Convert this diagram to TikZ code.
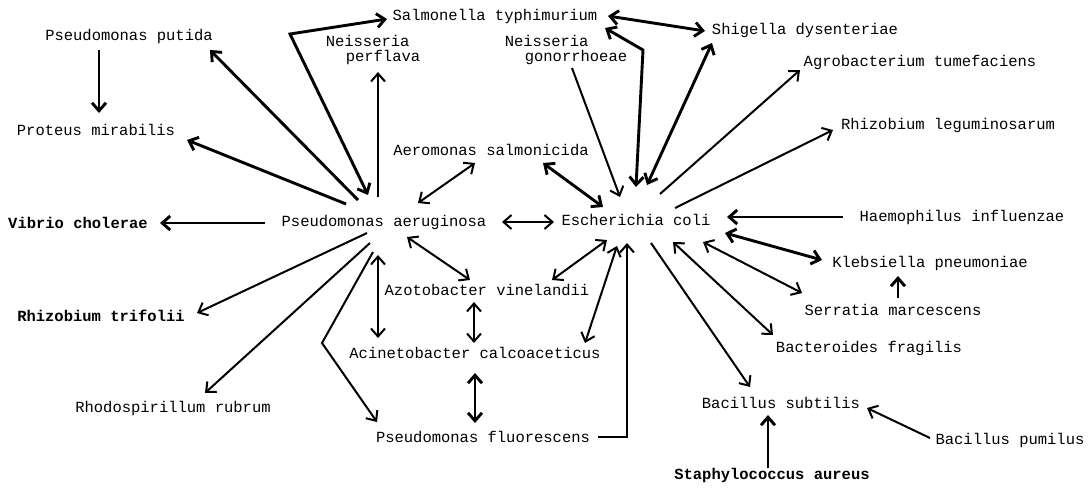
\documentclass[tikz,border=0pt]{standalone}
\usepackage{fontspec}
\setmonofont{Liberation Mono}
\usetikzlibrary{arrows.meta,calc}
\tikzset{
  lbl/.style={font=\ttfamily\fontsize{15.5}{15}\selectfont, inner sep=0pt, align=left},
  blbl/.style={font=\ttfamily\bfseries\fontsize{15.5}{15}\selectfont, inner sep=0pt},
  tip/.tip={Straight Barb[length=8pt,width=14pt]},
  conn/.style={line width=2pt, -tip},
  dconn/.style={line width=2pt, tip-tip},
  heavy/.style={line width=2.9pt}
}
\begin{document}
\begin{tikzpicture}[x=1pt,y=-1pt]
\useasboundingbox (0,0) rectangle (1088,488);
% nodes
\node[lbl]  (pput)  at (129,36)  {Pseudomonas putida};
\node[lbl]  (prot)  at (96,130)  {Proteus mirabilis};
\node[blbl] (vib)   at (78,223)  {Vibrio cholerae};
\node[blbl] (rtri)  at (101,316) {Rhizobium trifolii};
\node[lbl]  (rrub)  at (173,408) {Rhodospirillum rubrum};
\node[lbl]  (pa)    at (384,222) {Pseudomonas aeruginosa};
\node[lbl]  (nper)  at (373,50)  {Neisseria\\\hspace*{20pt}perflava};
\node[lbl]  (salm)  at (495,16)  {Salmonella typhimurium};
\node[lbl]  (ngon)  at (566,50)  {Neisseria\\\hspace*{20pt}gonorrhoeae};
\node[lbl]  (shig)  at (805,30)  {Shigella dysenteriae};
\node[lbl]  (agro)  at (920,62)  {Agrobacterium tumefaciens};
\node[lbl]  (rleg)  at (948,125) {Rhizobium leguminosarum};
\node[lbl]  (aero)  at (491,150) {Aeromonas salmonicida};
\node[lbl]  (ecoli) at (636,220) {Escherichia coli};
\node[lbl]  (haem)  at (962,217) {Haemophilus influenzae};
\node[lbl]  (kleb)  at (930,263) {Klebsiella pneumoniae};
\node[lbl]  (serr)  at (893,310) {Serratia marcescens};
\node[lbl]  (bact)  at (869,348) {Bacteroides fragilis};
\node[lbl]  (bsub)  at (781,403) {Bacillus subtilis};
\node[lbl]  (bpum)  at (1010,440){Bacillus pumilus};
\node[blbl] (staph) at (772,475) {Staphylococcus aureus};
\node[lbl]  (azot)  at (487,290) {Azotobacter vinelandii};
\node[lbl]  (acin)  at (475,353) {Acinetobacter calcoaceticus};
\node[lbl]  (pflu)  at (483,437) {Pseudomonas fluorescens};
% connectors around P. aeruginosa
\draw[conn,heavy] ($(pput)+(-30,14)$) -- ($(prot)+(3,-17)$);
\draw[conn,heavy] ($(pa)+(-26,-22)$) -- ($(pput)+(81,14)$);
\draw[conn,heavy] ($(pa)+(-38,-18)$) -- ($(prot)+(91,10)$);
\draw[dconn,heavy] ($(pa)+(-16,-27)$) -- (290,34) -- ($(salm)+(-108,3)$);
\draw[conn] ($(pa)+(-6,-25)$) -- ($(nper)+(5,22)$);
\draw[dconn] ($(pa)+(34,-19)$) -- ($(aero)+(-16,13)$);
\draw[dconn] ($(pa)+(118,0)$) -- ($(ecoli)+(-82,2)$);
\draw[conn,heavy] ($(pa)+(-119,1)$) -- ($(vib)+(82,0)$);
\draw[conn] ($(pa)+(-17,11)$) -- ($(rtri)+(96,-3)$);
\draw[conn] ($(pa)+(-14,21)$) -- ($(rrub)+(32,-15)$);
\draw[conn] ($(pa)+(-11,30)$) -- (322,343) -- ($(pflu)+(-106,-15)$);
\draw[dconn] ($(pa)+(-6,33)$) -- ($(acin)+(-97,-15)$);
\draw[dconn] ($(pa)+(23,15)$) -- ($(azot)+(-17,-10)$);
\draw[dconn] ($(azot)+(-13,12)$) -- ($(acin)+(-1,-10)$);
\draw[dconn,heavy] ($(acin)+(0,20)$) -- ($(pflu)+(-8,-14)$);
% connectors around E. coli
\draw[conn] ($(pflu)+(115,0)$) -| ($(ecoli)+(-9,23)$);
\draw[dconn] ($(ecoli)+(-29,20)$) -- ($(azot)+(65,-10)$);
\draw[dconn] ($(ecoli)+(-19,26)$) -- ($(acin)+(110,-10)$);
\draw[dconn,heavy] ($(aero)+(52,13)$) -- ($(ecoli)+(-33,-13)$);
\draw[conn] ($(ngon)+(6,18)$) -- ($(ecoli)+(-16,-23)$);
\draw[dconn,heavy] ($(ecoli)+(0,-33)$) -- (643,50) -- ($(salm)+(110,12)$);
\draw[dconn,heavy] ($(salm)+(113,0)$) -- ($(shig)+(-100,1)$);
\draw[dconn,heavy] ($(ecoli)+(11,-35)$) -- ($(shig)+(-93,13)$);
\draw[conn] ($(ecoli)+(24,-26)$) -- ($(agro)+(-120,8)$);
\draw[conn] ($(ecoli)+(39,-12)$) -- ($(rleg)+(-115,5)$);
\draw[conn,heavy] ($(haem)+(-119,0)$) -- ($(ecoli)+(91,-3)$);
\draw[dconn,heavy] ($(ecoli)+(89,13)$) -- ($(kleb)+(-108,-3)$);
\draw[dconn] ($(ecoli)+(67,22)$) -- ($(serr)+(-91,-17)$);
\draw[dconn] ($(ecoli)+(37,22)$) -- ($(bact)+(-96,-13)$);
\draw[conn] ($(ecoli)+(15,23)$) -- ($(bsub)+(-31,-16)$);
\draw[conn,heavy] ($(serr)+(5,-12)$) -- ($(kleb)+(-32,13)$);
\draw[conn] ($(bpum)+(-80,-2)$) -- ($(bsub)+(86,5)$);
\draw[conn,heavy] ($(staph)+(-4,-7)$) -- ($(bsub)+(-13,12)$);
\end{tikzpicture}
\end{document}
